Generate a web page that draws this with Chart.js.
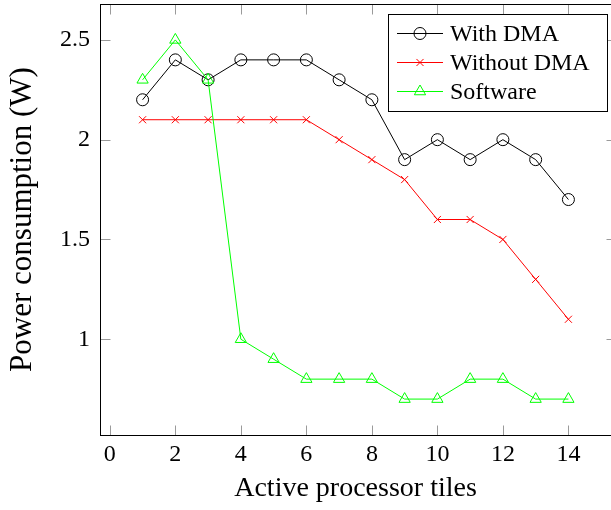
<!DOCTYPE html>
<html>
<head>
<meta charset="utf-8">
<script src="https://cdn.jsdelivr.net/npm/chart.js@4"></script>
<style>
  body { margin: 0; background: #fff; }
  canvas { display: block; }
</style>
</head>
<body>
<canvas id="powerChart" width="611" height="510"></canvas>
<script>
// tiles on the x axis and measured power for each configuration
const tiles = [1, 2, 3, 4, 5, 6, 7, 8, 9, 10, 11, 12, 13, 14];
const withDMA = [2.2, 2.4, 2.3, 2.4, 2.4, 2.4, 2.3, 2.2, 1.9, 2.0, 1.9, 2.0, 1.9, 1.7];
const withoutDMA = [2.1, 2.1, 2.1, 2.1, 2.1, 2.1, 2.0, 1.9, 1.8, 1.6, 1.6, 1.5, 1.3, 1.1];
const software = [2.3, 2.5, 2.3, 1.0, 0.9, 0.8, 0.8, 0.8, 0.7, 0.7, 0.8, 0.8, 0.7, 0.7];

const xTicks = [0, 2, 4, 6, 8, 10, 12, 14];
const yTicks = [1, 1.5, 2, 2.5];

const serif = '"Liberation Serif", "DejaVu Serif", serif';

function points(values) {
    return values.map((v, i) => ({ x: tiles[i], y: v }));
}

// pgfplots-like frame with inward tick marks; the right edge sits at the canvas border
const framePlugin = {
    id: 'frame',
    beforeDatasetsDraw(chart) {
        const ctx = chart.ctx;
        const a = chart.chartArea;
        const xs = chart.scales.x, ys = chart.scales.y;
        const L = Math.round(a.left) + 0.5, R = Math.round(a.right) + 0.5;
        const T = Math.round(a.top) + 0.5, B = Math.round(a.bottom) + 0.5;
        const len = 10;
        ctx.save();
        ctx.lineWidth = 1;
        ctx.strokeStyle = '#9a9a9a';
        ctx.beginPath();
        xTicks.forEach(v => {
            const px = Math.round(xs.getPixelForValue(v)) + 0.5;
            ctx.moveTo(px, B); ctx.lineTo(px, B - len);
            ctx.moveTo(px, T); ctx.lineTo(px, T + len);
        });
        yTicks.forEach(v => {
            const py = Math.round(ys.getPixelForValue(v)) + 0.5;
            ctx.moveTo(L, py); ctx.lineTo(L + len, py);
            ctx.moveTo(R, py); ctx.lineTo(R - 5, py);
        });
        ctx.stroke();
        ctx.strokeStyle = '#000';
        ctx.strokeRect(L, T, R - L, B - T);
        ctx.restore();
    }
};

// boxed legend in the upper right corner
const legendPlugin = {
    id: 'boxLegend',
    afterDatasetsDraw(chart) {
        const ctx = chart.ctx;
        const box = { x: 388.5, y: 14.5, w: 219, h: 97 };
        const rows = [33, 62, 91];
        ctx.save();
        ctx.fillStyle = '#fff';
        ctx.fillRect(box.x, box.y, box.w, box.h);
        ctx.strokeStyle = '#000';
        ctx.lineWidth = 1;
        ctx.strokeRect(box.x, box.y, box.w, box.h);
        chart.data.datasets.forEach((ds, i) => {
            const y = rows[i] + 0.5;
            ctx.strokeStyle = ds.borderColor;
            ctx.lineWidth = 1;
            ctx.beginPath();
            ctx.moveTo(397, y);
            ctx.lineTo(443, y);
            ctx.stroke();
            ctx.fillStyle = 'rgba(0,0,0,0)';
            Chart.helpers.drawPoint(ctx, {
                pointStyle: ds.pointStyle,
                radius: ds.pointRadius,
                rotation: 0,
                borderWidth: 1
            }, 420, y);
            ctx.fillStyle = '#000';
            ctx.font = '24px ' + serif;
            ctx.textBaseline = 'middle';
            ctx.textAlign = 'left';
            ctx.fillText(ds.label, 450, y + 1);
        });
        ctx.restore();
    }
};

new Chart(document.getElementById('powerChart'), {
    type: 'line',
    data: {
        datasets: [{
            label: 'With DMA',
            data: points(withDMA),
            borderColor: '#000000',
            pointStyle: 'circle',
            pointRadius: 6,
            order: 2
        }, {
            label: 'Without DMA',
            data: points(withoutDMA),
            borderColor: '#ff0000',
            pointStyle: 'crossRot',
            pointRadius: 5,
            order: 1
        }, {
            label: 'Software',
            data: points(software),
            borderColor: '#00ff00',
            pointStyle: 'triangle',
            pointRadius: 6.5,
            order: 0
        }].map(ds => Object.assign(ds, {
            borderWidth: 1,
            pointBorderWidth: 1,
            pointBorderColor: ds.borderColor,
            pointBackgroundColor: 'rgba(0,0,0,0)',
            tension: 0,
            fill: false
        }))
    },
    options: {
        responsive: false,
        animation: false,
        events: [],
        layout: {
            autoPadding: false,
            padding: { top: 4, right: 0, left: 0, bottom: 0 }
        },
        plugins: {
            legend: { display: false },
            tooltip: { enabled: false }
        },
        scales: {
            x: {
                type: 'linear',
                min: -0.3,
                max: 15.3,
                afterBuildTicks(scale) { scale.ticks = xTicks.map(v => ({ value: v })); },
                afterFit(scale) {
                    scale.height = 75;
                    scale.paddingLeft = 0;
                    scale.paddingRight = 0;
                },
                grid: { display: false, drawTicks: false },
                border: { display: false },
                ticks: {
                    color: '#000',
                    padding: 5,
                    maxRotation: 0,
                    font: { family: serif, size: 24 }
                },
                title: {
                    display: true,
                    text: 'Active processor tiles',
                    color: '#000',
                    padding: { top: 0, bottom: 4.5 },
                    font: { family: serif, size: 28 }
                }
            },
            y: {
                type: 'linear',
                min: 0.52,
                max: 2.68,
                afterBuildTicks(scale) { scale.ticks = yTicks.map(v => ({ value: v })); },
                afterFit(scale) {
                    scale.width = 100;
                    scale.paddingTop = 0;
                    scale.paddingBottom = 0;
                },
                grid: { display: false, drawTicks: false },
                border: { display: false },
                ticks: {
                    color: '#000',
                    padding: 10,
                    font: { family: serif, size: 24 },
                    callback: v => String(v)
                },
                title: {
                    display: true,
                    text: 'Power consumption (W)',
                    color: '#000',
                    padding: { top: 4.5, bottom: 0 },
                    font: { family: serif, size: 31 }
                }
            }
        }
    },
    plugins: [framePlugin, legendPlugin]
});
</script>
</body>
</html>
